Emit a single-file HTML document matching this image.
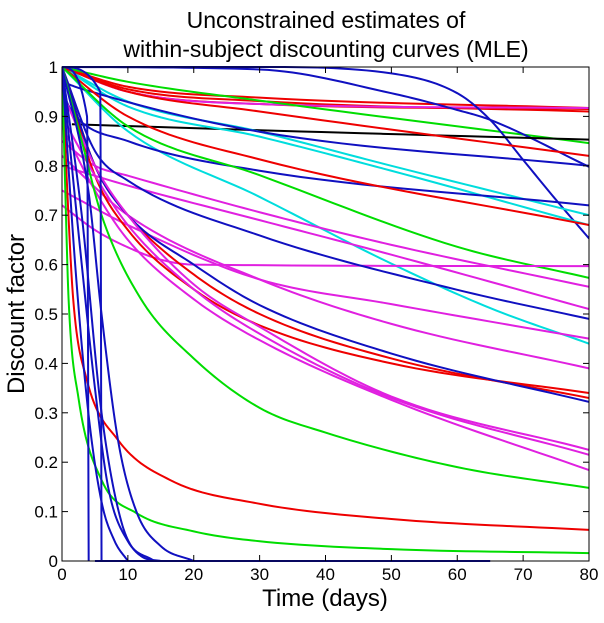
<!DOCTYPE html>
<html><head><meta charset="utf-8">
<style>
html,body{margin:0;padding:0;background:#fff;}
body{width:604px;height:618px;overflow:hidden;font-family:"Liberation Sans",sans-serif;}
svg text{font-family:"Liberation Sans",sans-serif;}
</style></head>
<body>
<svg id="chart" width="604" height="618" viewBox="0 0 604 618" xmlns="http://www.w3.org/2000/svg">
<text x="326" y="28" font-size="23" text-anchor="middle">Unconstrained estimates of</text>
<text x="326" y="57" font-size="23" text-anchor="middle">within-subject discounting curves (MLE)</text>
<text x="325" y="606" font-size="24" text-anchor="middle">Time (days)</text>
<text transform="translate(24,314) rotate(-90)" font-size="24" text-anchor="middle">Discount factor</text>
<g id="plot"></g>
<g id="axes"></g>
</svg>
<script>
const xTicks = [0,10,20,30,40,50,60,70,80];
const yTicks = [0,0.1,0.2,0.3,0.4,0.5,0.6,0.7,0.8,0.9,1];
const yTickLabels = ["0","0.1","0.2","0.3","0.4","0.5","0.6","0.7","0.8","0.9","1"];
const seriesColors = [
 "#ee0000","#ee0000","#ee0000","#e020e0","#00dd00","#1010c0","#1010c0","#000000",
 "#00dddd","#00dddd","#00dddd","#1010c0","#1010c0","#ee0000","#ee0000","#00dd00",
 "#e020e0","#e020e0","#e020e0","#1010c0","#e020e0","#e020e0","#ee0000","#ee0000",
 "#1010c0","#e020e0","#e020e0","#e020e0","#00dd00","#ee0000","#00dd00",
 "#1010c0","#1010c0","#1010c0","#1010c0","#1010c0","#1010c0","#1010c0"
];
const seriesTimes = [
 [0,10,30,80],
 [0,10,30,80],
 [0,10,30,80],
 [0,10,30,80],
 [0,10,30,80],
 [0,30,50,60,65,70,75,80],
 [0,30,50,60,65,80],
 [1.5,30,80],
 [0,10,30,50,80],
 [0,10,30,50,80],
 [0,10,30,50,65,80],
 [0,2.7,30,80],
 [0,1.7,10,30,80],
 [0,10,30,80],
 [0,10,30,80],
 [0,10,30,60,80],
 [0,5,10,15,20,80],
 [0,5,10,30,50,80],
 [0,10,30,50,80],
 [0,5,10,30,60,80],
 [0,10,30,50,80],
 [0,10,30,50,80],
 [0,5,10,20,30,50,80],
 [0,5,10,20,30,50,80],
 [0,5,10,20,30,50,80],
 [0,5,10,20,30,50,80],
 [0,5,10,20,30,50,80],
 [0,5,10,20,30,50,80],
 [0,3,6,12,20,30,40,60,80],
 [0,0.8,1.7,3.7,8.5,16.4,29.5,50,80],
 [0,0.5,1,2.5,6,11.3,20,30,50,80],
 [0,3.8,4.05],
 [0,5.8,6.0],
 [0,2,4,6,8,10],
 [0,3,5,7,10,14],
 [0,4,6,8.5,11.3,15,20],
 [0,3,6,9,12,15],
 [5,65]
];
const seriesValues = [
 [1,0.96,0.938,0.917],
 [1,0.955,0.931,0.91],
 [1,0.95,0.925,0.915],
 [1,0.95,0.925,0.917],
 [1,0.97,0.932,0.846],
 [1,1,0.987,0.947,0.893,0.812,0.731,0.653],
 [1,0.995,0.947,0.913,0.893,0.798],
 [0.884,0.872,0.853],
 [1,0.93,0.869,0.8,0.7],
 [1,0.92,0.859,0.79,0.68],
 [1,0.87,0.737,0.602,0.512,0.44],
 [0.97,0.957,0.869,0.8],
 [0.95,0.906,0.85,0.79,0.72],
 [1,0.95,0.91,0.82],
 [1,0.9,0.813,0.68],
 [1,0.88,0.781,0.636,0.573],
 [0.72,0.67,0.635,0.61,0.6,0.597],
 [0.85,0.8,0.78,0.706,0.64,0.555],
 [0.8,0.76,0.69,0.62,0.51],
 [1,0.83,0.77,0.659,0.549,0.49],
 [0.75,0.68,0.57,0.52,0.45],
 [0.82,0.7,0.57,0.48,0.39],
 [1,0.78,0.67,0.55,0.477,0.4,0.34],
 [1,0.8,0.7,0.58,0.5,0.41,0.33],
 [1,0.8,0.7,0.6,0.518,0.42,0.322],
 [0.95,0.8,0.7,0.56,0.474,0.333,0.225],
 [0.9,0.78,0.68,0.55,0.46,0.33,0.215],
 [0.88,0.75,0.65,0.53,0.447,0.326,0.184],
 [1,0.85,0.7,0.53,0.41,0.31,0.26,0.19,0.148],
 [1,0.75,0.53,0.37,0.245,0.164,0.117,0.085,0.063],
 [1,0.75,0.53,0.33,0.164,0.097,0.06,0.04,0.024,0.016],
 [1,0.9,0],
 [1,0.95,0],
 [1,0.6,0.3,0.12,0.04,0],
 [1,0.6,0.35,0.15,0.04,0],
 [1,0.75,0.5,0.245,0.1,0.03,0],
 [1,0.7,0.3,0.08,0.01,0],
 [0,0]
];
const X0=62, X1=589, Y0=561, Y1=67;
function xScale(t){return X0+(t/80)*(X1-X0);}
function yScale(v){return Y0-v*(Y0-Y1);}
const NS="http://www.w3.org/2000/svg";
function monotonePath(xs,ys){
  const n=xs.length;
  if(n<3){return xs.map((x,i)=>(i?"L":"M")+xScale(x).toFixed(2)+","+yScale(ys[i]).toFixed(2)).join("");}
  const d=[],m=new Array(n);
  for(let i=0;i<n-1;i++)d.push((ys[i+1]-ys[i])/(xs[i+1]-xs[i]));
  m[0]=d[0];m[n-1]=d[n-2];
  for(let i=1;i<n-1;i++){m[i]=(d[i-1]*d[i]<=0)?0:(d[i-1]+d[i])/2;}
  for(let i=0;i<n-1;i++){
    if(d[i]===0){m[i]=0;m[i+1]=0;continue;}
    const a=m[i]/d[i],b=m[i+1]/d[i],s=a*a+b*b;
    if(s>9){const t=3/Math.sqrt(s);m[i]=t*a*d[i];m[i+1]=t*b*d[i];}
  }
  let p="M"+xScale(xs[0]).toFixed(2)+","+yScale(ys[0]).toFixed(2);
  for(let i=0;i<n-1;i++){
    for(let k=1;k<=16;k++){
      const h=xs[i+1]-xs[i],t=k/16,t2=t*t,t3=t2*t;
      const v=(2*t3-3*t2+1)*ys[i]+(t3-2*t2+t)*h*m[i]+(-2*t3+3*t2)*ys[i+1]+(t3-t2)*h*m[i+1];
      p+="L"+xScale(xs[i]+t*h).toFixed(2)+","+yScale(v).toFixed(2);
    }
  }
  return p;
}
const plot=document.getElementById("plot");
const clip=document.createElementNS(NS,"clipPath");clip.setAttribute("id","pc");
const cr=document.createElementNS(NS,"rect");
cr.setAttribute("x",X0);cr.setAttribute("y",Y1-1);cr.setAttribute("width",X1-X0);cr.setAttribute("height",Y0-Y1+2);
clip.appendChild(cr);document.getElementById("chart").appendChild(clip);
plot.setAttribute("clip-path","url(#pc)");
for(let s=0;s<seriesValues.length;s++){
  const path=document.createElementNS(NS,"path");
  
  
  path.setAttribute("d",monotonePath(seriesTimes[s],seriesValues[s]));
  path.setAttribute("fill","none");
  path.setAttribute("stroke",seriesColors[s]);
  path.setAttribute("stroke-width","2");
  plot.appendChild(path);
}
const axes=document.getElementById("axes");
const frame=document.createElementNS(NS,"rect");


frame.setAttribute("x",X0);frame.setAttribute("y",Y1);frame.setAttribute("width",X1-X0);frame.setAttribute("height",Y0-Y1);
frame.setAttribute("fill","none");frame.setAttribute("stroke","#000");frame.setAttribute("stroke-width","1");
axes.appendChild(frame);
xTicks.forEach(t=>{
  const x=xScale(t);
  [[Y0,Y0-6],[Y1,Y1+6]].forEach(([a,b])=>{
    const l=document.createElementNS(NS,"line");
    
    
    l.setAttribute("x1",x);l.setAttribute("x2",x);l.setAttribute("y1",a);l.setAttribute("y2",b);l.setAttribute("stroke","#000");
    axes.appendChild(l);
  });
  const tx=document.createElementNS(NS,"text");
  
  
  tx.setAttribute("x",x);tx.setAttribute("y",Y0+19);tx.setAttribute("font-size","17");tx.setAttribute("text-anchor","middle");
  tx.textContent=String(t);axes.appendChild(tx);
});
yTicks.forEach((v,i)=>{
  const y=yScale(v);
  [[X0,X0+6],[X1,X1-6]].forEach(([a,b])=>{
    const l=document.createElementNS(NS,"line");
    
    
    l.setAttribute("x1",a);l.setAttribute("x2",b);l.setAttribute("y1",y);l.setAttribute("y2",y);l.setAttribute("stroke","#000");
    axes.appendChild(l);
  });
  const tx=document.createElementNS(NS,"text");
  
  
  tx.setAttribute("x",X0-4);tx.setAttribute("y",y+6);tx.setAttribute("font-size","17");tx.setAttribute("text-anchor","end");
  tx.textContent=yTickLabels[i];axes.appendChild(tx);
});
</script>
</body></html>
